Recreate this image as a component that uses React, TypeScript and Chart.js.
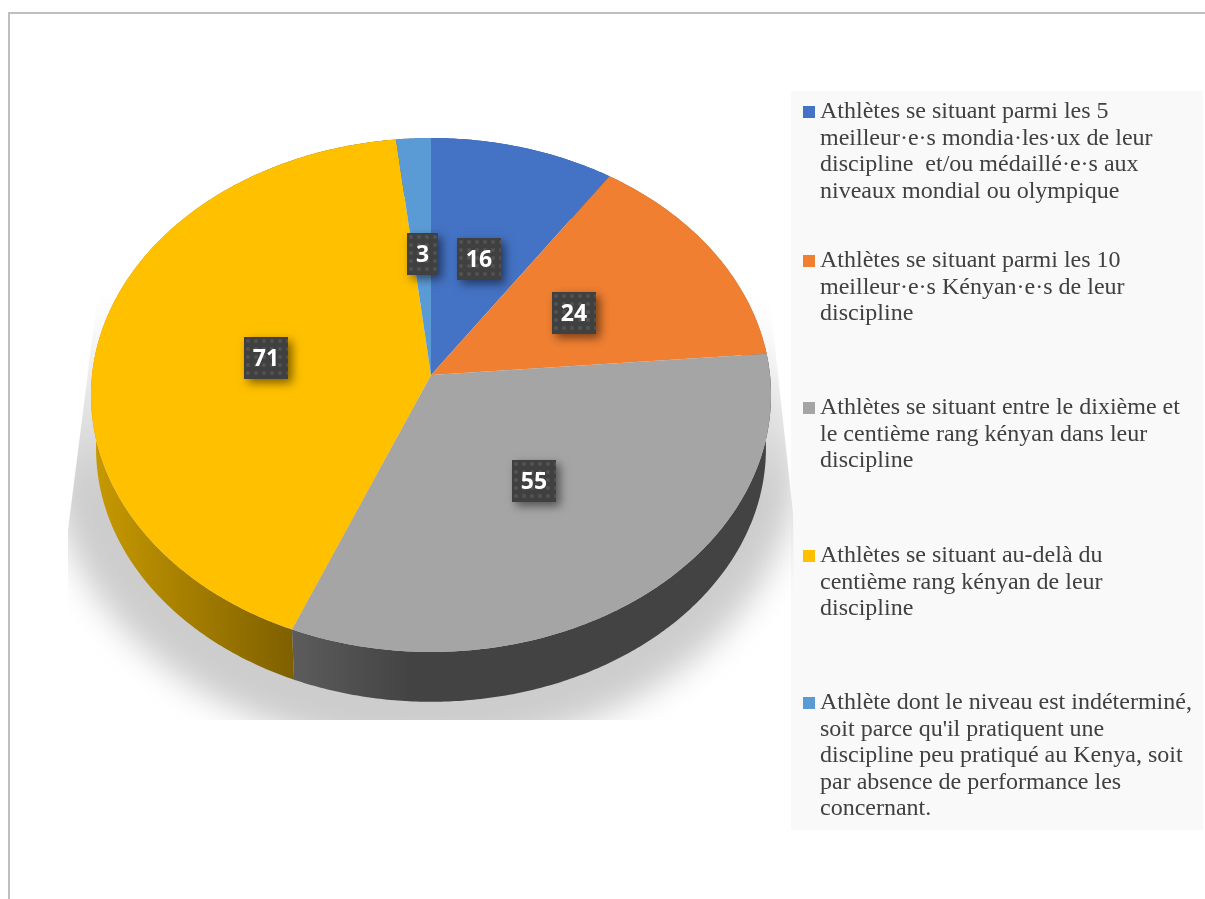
import React, { useEffect, useRef } from "react";
import { Chart, registerables } from "chart.js";

Chart.register(...registerables);

const categories: string[][] = [
  ["Athlètes se situant parmi les 5", "meilleur·e·s mondia·les·ux de leur", "discipline  et/ou médaillé·e·s aux", "niveaux mondial ou olympique"],
  ["Athlètes se situant parmi les 10", "meilleur·e·s Kényan·e·s de leur", "discipline"],
  ["Athlètes se situant entre le dixième et", "le centième rang kényan dans leur", "discipline"],
  ["Athlètes se situant au-delà du", "centième rang kényan de leur", "discipline"],
  ["Athlète dont le niveau est indéterminé,", "soit parce qu'il pratiquent une", "discipline peu pratiqué au Kenya, soit", "par absence de performance les", "concernant."],
];
const values: number[] = [16, 24, 55, 71, 3];
const colors: string[] = ["#4472c4", "#f07f31", "#a5a5a5", "#ffc000", "#5b9bd5"];
const wallFrom: string[] = ["#2f5597", "#a85a20", "#5c5c5c", "#c89a00", "#3c6d9a"];
const wallTo: string[] = ["#2f5597", "#a85a20", "#434343", "#7f6000", "#3c6d9a"];
const legendBaselines: number[] = [118, 267, 414, 562, 709];

// perspective of the tilted disc
const TILT = -0.0778;
const SQUASH = 255.4 / 339;
const WALL_SCALE = 0.985;
const WALL_DROP = 54;
const LINE_H = 26.5;

function project(arc: any, angle: number, radial = 1) {
  const ux = Math.cos(angle) * radial;
  const uy = Math.sin(angle) * radial;
  const w = 1 + TILT * uy;
  return {
    x: arc.x + (arc.outerRadius * ux) / w,
    y: arc.y + (arc.outerRadius * SQUASH * uy) / w,
  };
}

function rimPoints(arc: any, scale = 1, drop = 0) {
  const pts: { x: number; y: number }[] = [];
  const steps = Math.max(4, Math.ceil((arc.endAngle - arc.startAngle) / 0.01));
  for (let i = 0; i <= steps; i++) {
    const a = arc.startAngle + ((arc.endAngle - arc.startAngle) * i) / steps;
    const p = project(arc, a);
    pts.push({ x: arc.x + (p.x - arc.x) * scale, y: arc.y + (p.y - arc.y) * scale + drop });
  }
  return pts;
}

const disc3d = {
  id: "disc3d",
  beforeDraw(chart: any) {
    const { ctx, width, height } = chart;
    ctx.save();
    ctx.fillStyle = "#ffffff";
    ctx.fillRect(0, 0, width, height);
    ctx.fillStyle = "#bfbfbf";
    ctx.fillRect(8, 12, width - 8, 2);
    ctx.fillRect(8, 12, 2, height - 12);
    ctx.fillStyle = "#f9f9f9";
    ctx.fillRect(791, 91, 412, 739);
    ctx.restore();
  },
  beforeDatasetsDraw(chart: any) {
    const { ctx } = chart;
    const arcs = chart.getDatasetMeta(0).data;
    const first = arcs[0];

    // cast shadow, fading out upwards
    ctx.save();
    ctx.beginPath();
    ctx.moveTo(431, 200);
    ctx.lineTo(99, 285);
    ctx.lineTo(68, 530);
    ctx.lineTo(68, 720);
    ctx.lineTo(796, 720);
    ctx.lineTo(793, 513);
    ctx.lineTo(770, 300);
    ctx.closePath();
    ctx.clip();
    ctx.filter = "blur(16px)";
    const shade = ctx.createLinearGradient(0, 300, 0, 490);
    shade.addColorStop(0, "#ffffff");
    shade.addColorStop(1, "#cdcdcd");
    ctx.fillStyle = shade;
    ctx.beginPath();
    ctx.ellipse(first.x - 6, first.y + 75, 375, 300, 0, 0, Math.PI * 2);
    ctx.fill();
    ctx.restore();

    // side walls
    arcs.forEach((arc: any, i: number) => {
      const up = rimPoints(arc);
      const low = rimPoints(arc, WALL_SCALE, WALL_DROP);
      const left = Math.min(...up.map((p) => p.x));
      const g = ctx.createLinearGradient(left, 0, i === 3 ? 293 : left + 120, 0);
      g.addColorStop(0, wallFrom[i]);
      g.addColorStop(1, wallTo[i]);
      ctx.fillStyle = g;
      ctx.beginPath();
      up.forEach((p, j) => (j ? ctx.lineTo(p.x, p.y) : ctx.moveTo(p.x, p.y)));
      low.reverse().forEach((p) => ctx.lineTo(p.x, p.y));
      ctx.closePath();
      ctx.fill();
    });

    // top faces
    arcs.forEach((arc: any) => {
      ctx.fillStyle = arc.options.backgroundColor;
      ctx.beginPath();
      ctx.moveTo(arc.x, arc.y);
      rimPoints(arc).forEach((p) => ctx.lineTo(p.x, p.y));
      ctx.closePath();
      ctx.fill();
    });
    return false;
  },
  afterDraw(chart: any) {
    const { ctx } = chart;
    const arcs = chart.getDatasetMeta(0).data;

    // dotted tile used behind the value labels
    const tile = document.createElement("canvas");
    tile.width = 8;
    tile.height = 8;
    const t = tile.getContext("2d")!;
    t.fillStyle = "#404040";
    t.fillRect(0, 0, 8, 8);
    t.fillStyle = "#4c4c4c";
    t.fillRect(2, 2, 4, 4);
    t.fillStyle = "#555555";
    t.fillRect(3, 3, 2, 2);
    const pattern = ctx.createPattern(tile, "repeat");

    ctx.save();
    ctx.font = "bold 23px 'Open Sans'";
    ctx.textAlign = "center";
    ctx.textBaseline = "middle";
    arcs.forEach((arc: any, i: number) => {
      const mid = (arc.startAngle + arc.endAngle) / 2;
      const c = project(arc, mid, 0.495);
      c.x += 0.5;
      c.y += 0.5;
      const text = String(values[i]);
      const w = Math.round(ctx.measureText(text).width + 18);
      const h = 42;
      const bx = Math.round(c.x - w / 2);
      const by = Math.round(c.y - h / 2);
      ctx.save();
      ctx.shadowColor = "rgba(0,0,0,0.5)";
      ctx.shadowBlur = 9;
      ctx.shadowOffsetX = 4;
      ctx.shadowOffsetY = 4;
      ctx.fillStyle = "#404040";
      ctx.fillRect(bx, by, w, h);
      ctx.restore();
      ctx.save();
      ctx.translate(bx, by);
      ctx.fillStyle = pattern;
      ctx.fillRect(0, 0, w, h);
      ctx.restore();
      ctx.fillStyle = "#ffffff";
      ctx.fillText(text, bx + w / 2, by + h / 2 + 1);
    });
    ctx.restore();

    // legend
    ctx.save();
    ctx.font = "24px 'Liberation Serif'";
    ctx.textAlign = "left";
    ctx.textBaseline = "alphabetic";
    categories.forEach((lines, i) => {
      const y0 = legendBaselines[i];
      ctx.fillStyle = colors[i];
      ctx.fillRect(803, y0 - 12, 12, 12);
      ctx.fillStyle = "#404040";
      lines.forEach((line, j) => ctx.fillText(line, 820, y0 + j * LINE_H));
    });
    ctx.restore();
  },
};

export default function App() {
  const ref = useRef<HTMLCanvasElement>(null);
  useEffect(() => {
    const chart = new Chart(ref.current!, {
      type: "pie",
      data: {
        labels: categories as any,
        datasets: [{ data: values, backgroundColor: colors, borderWidth: 0 }],
      },
      options: {
        animation: false,
        responsive: false,
        devicePixelRatio: 1,
        layout: { padding: { left: 92, right: 435, top: 36, bottom: 185 } },
        plugins: { legend: { display: false }, tooltip: { enabled: false } },
      },
      plugins: [disc3d as any],
    });
    return () => chart.destroy();
  }, []);
  return (
    <div style={{ position: "fixed", left: 0, top: 0, width: 1205, height: 899 }}>
      <canvas ref={ref} width={1205} height={899} style={{ display: "block" }} />
    </div>
  );
}
